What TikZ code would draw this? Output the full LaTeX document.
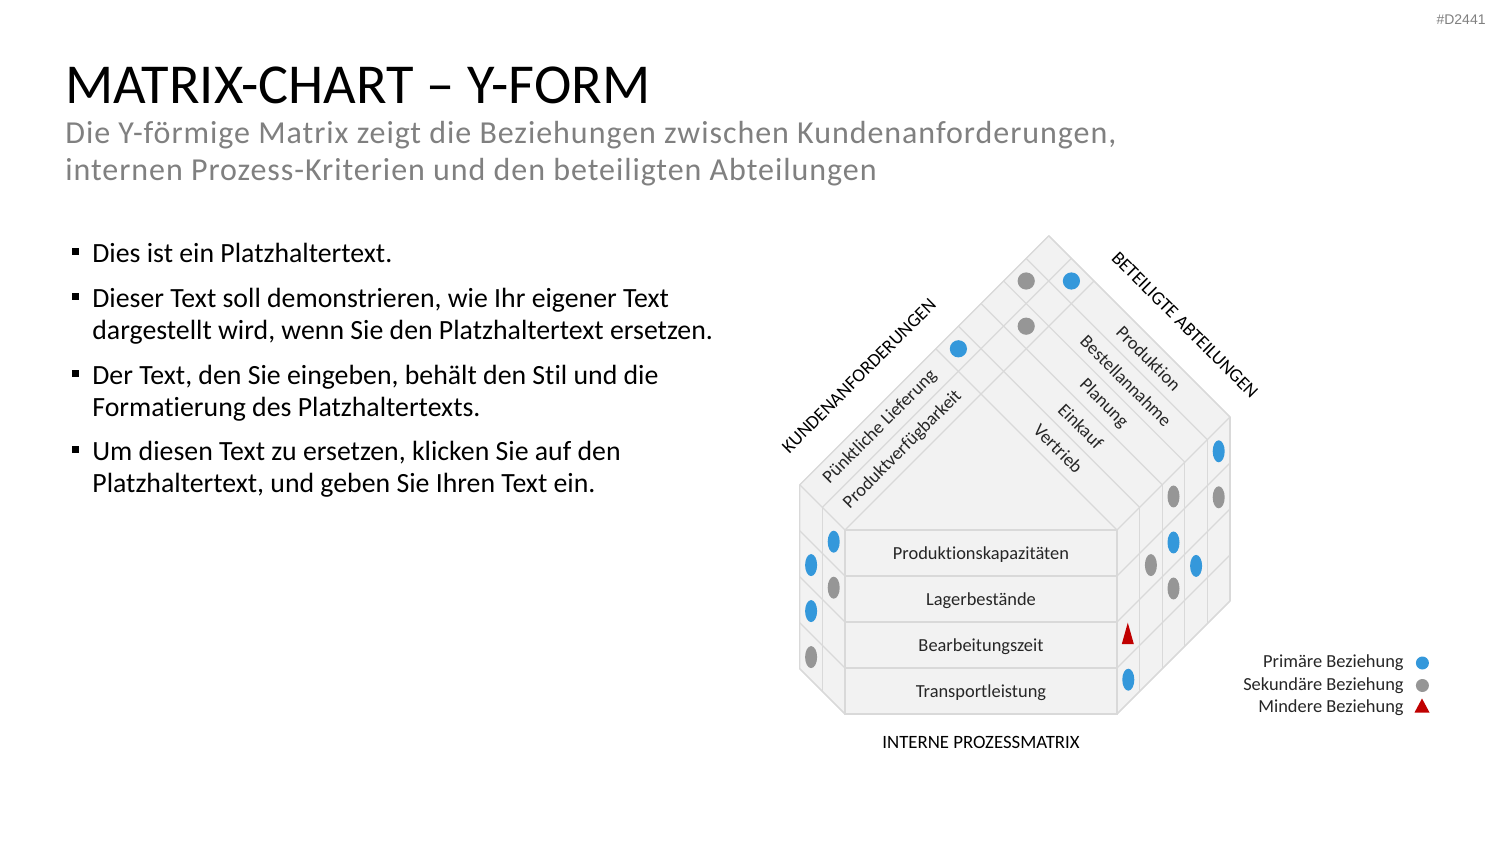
\documentclass[tikz,border=0pt]{standalone}
\usepackage{fontspec}
\setmainfont{Carlito}[Ligatures=NoCommon]
\newfontfamily\subfont{Carlito}[Ligatures=NoCommon, LetterSpace=3.0]
\newfontfamily\tagfont{Liberation Sans}
\usetikzlibrary{positioning,calc,shapes.geometric}

\definecolor{facegray}{HTML}{F2F2F2}
\definecolor{linegray}{HTML}{D9D9D9}
\definecolor{primblue}{HTML}{3498DB}
\definecolor{sekgray}{HTML}{969696}
\definecolor{minred}{HTML}{C00000}
\definecolor{subgray}{HTML}{808080}

\begin{document}
\begin{tikzpicture}[
    x=0.5pt, y=-0.5pt,
    every node/.style={inner sep=0pt, text=black!85, font=\fontsize{9.2}{11}\selectfont},
    heading/.style={anchor=base west, text=black, font=\fontsize{28.2}{32}\selectfont},
    subheading/.style={anchor=base west, text=subgray, font=\subfont\fontsize{16}{18}\selectfont},
    bulletline/.style={anchor=base west, text=black, font=\fontsize{13.9}{16}\selectfont},
    bulletsq/.style={fill=black, minimum size=3.6pt},
    axislabel/.style={text=black, font=\fontsize{9.4}{11}\selectfont},
    facefill/.style={fill=facegray, draw=linegray, line width=0.6pt, line join=round},
    gridline/.style={draw=linegray, line width=0.6pt},
    markdot/.style={circle, minimum size=8.6pt},
    markoval/.style={ellipse, minimum width=6pt, minimum height=11pt},
    primdot/.style={markdot, fill=primblue},
    sekdot/.style={markdot, fill=sekgray},
    primoval/.style={markoval, fill=primblue},
    sekoval/.style={markoval, fill=sekgray},
    legtext/.style={anchor=east}
]
    \useasboundingbox (0,0) rectangle (1500,844);
    \fill[white] (0,0) rectangle (1500,844);

    \node[anchor=base east, text=subgray, font=\tagfont\fontsize{7}{8}\selectfont] (tag) at (1486,25) {\#D2441};
    \node[heading] (title) at (65,104) {MATRIX-CHART – Y-FORM};
    \node[subheading] (sub1) at (65,144) {Die Y-förmige Matrix zeigt die Beziehungen zwischen Kundenanforderungen,};
    \node[subheading] (sub2) at (65,181) {internen Prozess-Kriterien und den beteiligten Abteilungen};

    \foreach \y/\txt [count=\n] in {263/{Dies ist ein Platzhaltertext.},
        308/{Dieser Text soll demonstrieren, wie Ihr eigener Text},
        340/{dargestellt wird, wenn Sie den Platzhaltertext ersetzen.},
        385/{Der Text, den Sie eingeben, behält den Stil und die},
        417/{Formatierung des Platzhaltertexts.},
        461/{Um diesen Text zu ersetzen, klicken Sie auf den},
        493/{Platzhaltertext, und geben Sie Ihren Text ein.}}
        \node[bulletline] (line\n) at (92,\y) {\txt};
    \foreach \y [count=\n] in {263,308,385,461}
        \node[bulletsq] (sq\n) at (75.5,\y-11.5) {};

    % Y-Matrix
    \path[facefill] (799.8,484.8) coordinate (lt) -- (1048.8,235.8) coordinate (apex)
        -- (1230,417) coordinate (rt) -- (1230,601) coordinate (rb) -- (1117,714) coordinate (fbr)
        -- (845,714) coordinate (fbl) -- (799.8,668.8) coordinate (lb) -- cycle;
    \foreach \r in {0,...,3}
        \draw[gridline] (845,530+46*\r) rectangle (1117,576+46*\r);
    \foreach \k in {0,1,2}
        \draw[gridline] (845-22.6*\k,530-22.6*\k) -- ++(0,184);
    \foreach \r in {0,...,4}
        \draw[gridline] (845,530+46*\r) -- ++(-45.2,-45.2);
    \foreach \m in {0,...,5}
        \draw[gridline] (1117+22.6*\m,530-22.6*\m) -- ++(0,184);
    \foreach \r in {0,...,4}
        \draw[gridline] (1117,530+46*\r) -- ++(113,-113);
    \foreach \i in {0,1,2}
        \draw[gridline] (799.8+22.6*\i,484.8+22.6*\i) -- ++(249,-249);
    \foreach \j in {0,...,5}
        \draw[gridline] (1230-22.6*\j,417+22.6*\j) -- ++(-181.2,-181.2);

    \node[axislabel, rotate=45] (kunden) at (859,376) {KUNDENANFORDERUNGEN};
    \node[axislabel, rotate=-45] (abteil) at (1185,325) {BETEILIGTE ABTEILUNGEN};
    \node[rotate=45] (lief) at (880.1,427.1) {Pünktliche Lieferung};
    \node[rotate=45] (verf) at (902.7,449.7) {Produktverfügbarkeit};
    \foreach \txt [count=\j from 0] in {Produktion, Bestellannahme, Planung, Einkauf, Vertrieb}
        \node[rotate=-45] (dep\j) at ({1160-22.6*(\j+0.5)}, {347+22.6*(\j+0.5)}) {\txt};
    \foreach \txt [count=\r from 0] in {Produktionskapazitäten, Lagerbestände, Bearbeitungszeit, Transportleistung}
        \node (row\r) at (981,555+46*\r) {\txt};
    \node[axislabel] (intern) at (981,742) {INTERNE PROZESSMATRIX};

    \foreach \i/\j/\c [count=\n] in {1/0/primdot, 0/1/sekdot, 1/2/sekdot, 0/4/primdot}
        \node[\c] (top\n) at ({1048.8+22.6*(\i-\j)}, {235.8+22.6*(\i+\j+1)}) {};
    \foreach \k/\r/\c [count=\n] in {1/0/primoval, 1/1/sekoval, 0/1/primoval, 0/2/primoval, 0/3/sekoval}
        \node[\c] (left\n) at ({799.8+22.6*(\k+0.5)}, {553+46*\r-45.2+22.6*(\k+0.5)}) {};
    \foreach \m/\r/\c [count=\n] in {0/3/primoval, 1/1/sekoval, 2/0/sekoval, 2/1/primoval, 2/2/sekoval, 3/2/primoval, 4/0/primoval, 4/1/sekoval}
        \node[\c] (right\n) at ({1117+22.6*(\m+0.5)}, {553+46*\r-22.6*(\m+0.5)}) {};
    \fill[minred] (1127.8,622.7) -- (1133.8,644) -- (1121.8,644) -- cycle;

    \node[legtext] (leg1) at (1404,663) {Primäre Beziehung};
    \node[legtext] (leg2) at (1404,685.5) {Sekundäre Beziehung};
    \node[legtext] (leg3) at (1404,708) {Mindere Beziehung};
    \node[primdot, minimum size=6.5pt, right=5.75pt of leg1] (legdot1) {};
    \node[sekdot, minimum size=6.5pt, right=5.75pt of leg2] (legdot2) {};
    \fill[minred] (1422,698.5) -- (1429.5,712.5) -- (1414.5,712.5) -- cycle;
\end{tikzpicture}
\end{document}
